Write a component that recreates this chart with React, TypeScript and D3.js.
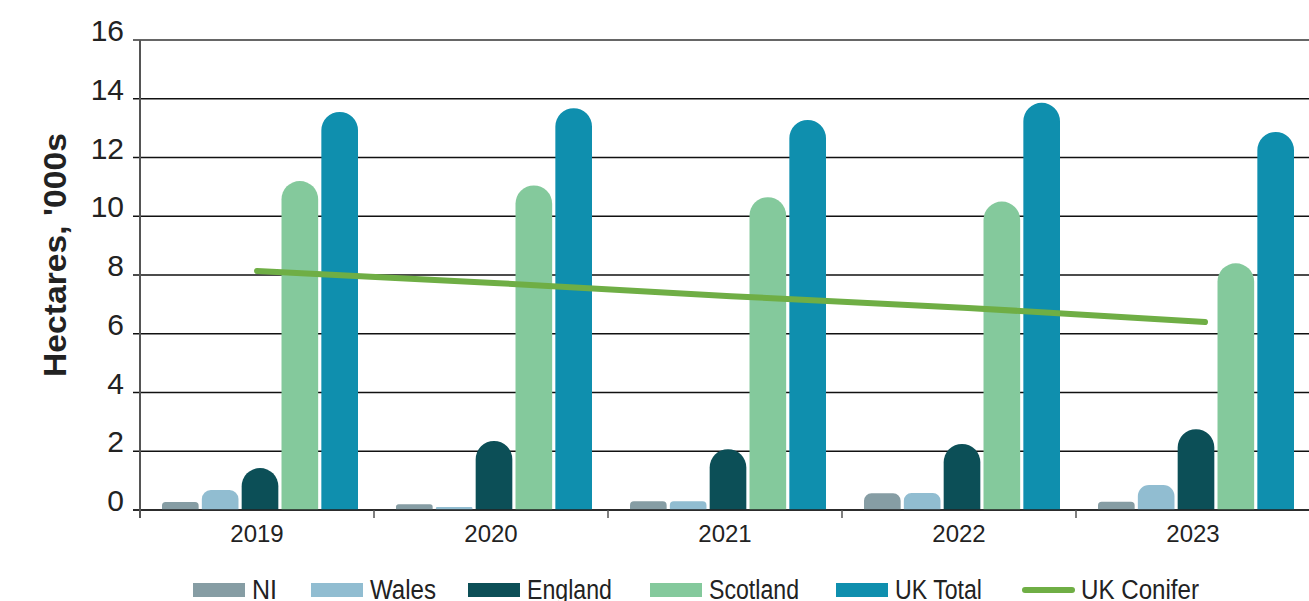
import React from "react";
import * as d3 from "d3";

const years = ["2019", "2020", "2021", "2022", "2023"];
const seriesNames = ["NI", "Wales", "England", "Scotland", "UK Total"];
const niValues = [0.27, 0.2, 0.3, 0.57, 0.28];
const walesValues = [0.68, 0.1, 0.3, 0.58, 0.85];
const englandValues = [1.43, 2.35, 2.07, 2.25, 2.75];
const scotlandValues = [11.2, 11.05, 10.65, 10.5, 8.4];
const ukTotalValues = [13.55, 13.68, 13.28, 13.86, 12.87];
const coniferValues = [8.14, 7.73, 7.28, 6.88, 6.4];
const yTicks = [0, 2, 4, 6, 8, 10, 12, 14, 16];

const seriesValues = [niValues, walesValues, englandValues, scotlandValues, ukTotalValues];
const colors = ["#869da4", "#91bdd1", "#0c4f57", "#84c99c", "#0f8fae"];
const coniferColor = "#6fae45";

const W = 1309;
const H = 601;
const left = 140;
const right = 1310;
const top = 40;
const bottom = 510;

function barPath(x: number, y: number, w: number, h: number) {
  if (h <= 0) return "";
  const r = Math.min(w / 2, h * 0.45);
  return `M${x},${y + h} L${x},${y + r} A${r},${r} 0 0 1 ${x + r},${y} L${x + w - r},${y} A${r},${r} 0 0 1 ${x + w},${y + r} L${x + w},${y + h} Z`;
}

const legendItems = [
  { name: "NI", x: 193, tw: 25, type: "rect", color: colors[0] },
  { name: "Wales", x: 311, tw: 66, type: "rect", color: colors[1] },
  { name: "England", x: 468, tw: 85, type: "rect", color: colors[2] },
  { name: "Scotland", x: 650, tw: 90, type: "rect", color: colors[3] },
  { name: "UK Total", x: 836, tw: 87, type: "rect", color: colors[4] },
  { name: "UK Conifer", x: 1022, tw: 118, type: "line", color: coniferColor },
];

export default function App() {
  const x0 = d3.scaleBand<string>().domain(years).range([left, right]).padding(0);
  const x1 = d3
    .scaleBand<string>()
    .domain(seriesNames)
    .range([22, 218])
    .paddingInner(0.08)
    .paddingOuter(0);
  const y = d3.scaleLinear().domain([0, 16]).range([bottom, top]);
  const bw = x1.bandwidth();
  const xLine = d3.scalePoint<string>().domain(years).range([257, 1205]);

  const line = d3
    .line<number>()
    .x((_, i) => xLine(years[i]) as number)
    .y((v) => y(v));

  return (
    <svg
      width={W}
      height={H}
      style={{ position: "absolute", left: 0, top: 0, background: "#fff" }}
      fontFamily="'Liberation Sans', Arial, sans-serif"
    >
      {yTicks.map((t) => (
        <line
          key={"g" + t}
          x1={133}
          x2={W}
          y1={y(t)}
          y2={y(t)}
          stroke={t === 16 ? "#333" : "#111"}
          strokeWidth={1.5}
        />
      ))}
      {yTicks.map((t) => (
        <text
          key={"yl" + t}
          x={124}
          y={y(t) + 1}
          textAnchor="end"
          fontSize={30}
          fill="#222"
        >
          {t}
        </text>
      ))}
      {years.map((yr, i) => (
        <g key={yr} transform={`translate(${x0(yr)},0)`}>
          {seriesNames.map((s, j) => {
            const v = seriesValues[j][i];
            const bx = x1(s) as number;
            const by = y(v);
            return (
              <path key={s} d={barPath(bx, by, bw, bottom - by)} fill={colors[j]} />
            );
          })}
        </g>
      ))}
      <line x1={133} x2={W} y1={bottom} y2={bottom} stroke="#222" strokeWidth={1.5} />
      <line x1={left} x2={left} y1={top} y2={bottom + 8} stroke="#555" strokeWidth={2} />
      {years.map((yr) => (
        <line
          key={"t" + yr}
          x1={x0(yr) as number}
          x2={x0(yr) as number}
          y1={bottom}
          y2={bottom + 8}
          stroke="#555"
          strokeWidth={1.5}
        />
      ))}
      {years.map((yr) => (
        <text
          key={"xl" + yr}
          x={(x0(yr) as number) + x0.bandwidth() / 2}
          y={542}
          textAnchor="middle"
          fontSize={24}
          fill="#222"
        >
          {yr}
        </text>
      ))}
      <path
        d={line(coniferValues) || ""}
        fill="none"
        stroke={coniferColor}
        strokeWidth={6}
        strokeLinecap="round"
      />
      <text
        transform={`translate(66,255) rotate(-90)`}
        textAnchor="middle"
        fontSize={32}
        fontWeight="bold"
        fill="#222"
        textLength={244}
        lengthAdjust="spacingAndGlyphs"
      >
        Hectares, '000s
      </text>
      {legendItems.map((it) => (
        <g key={it.name}>
          {it.type === "rect" ? (
            <rect x={it.x} y={583} width={52} height={14} fill={it.color} />
          ) : (
            <line
              x1={it.x + 3}
              x2={it.x + 50}
              y1={590}
              y2={590}
              stroke={it.color}
              strokeWidth={6}
              strokeLinecap="round"
            />
          )}
          <text
            x={it.x + 59}
            y={599}
            fontSize={27}
            fill="#222"
            textLength={it.tw}
            lengthAdjust="spacingAndGlyphs"
          >
            {it.name}
          </text>
        </g>
      ))}
    </svg>
  );
}
